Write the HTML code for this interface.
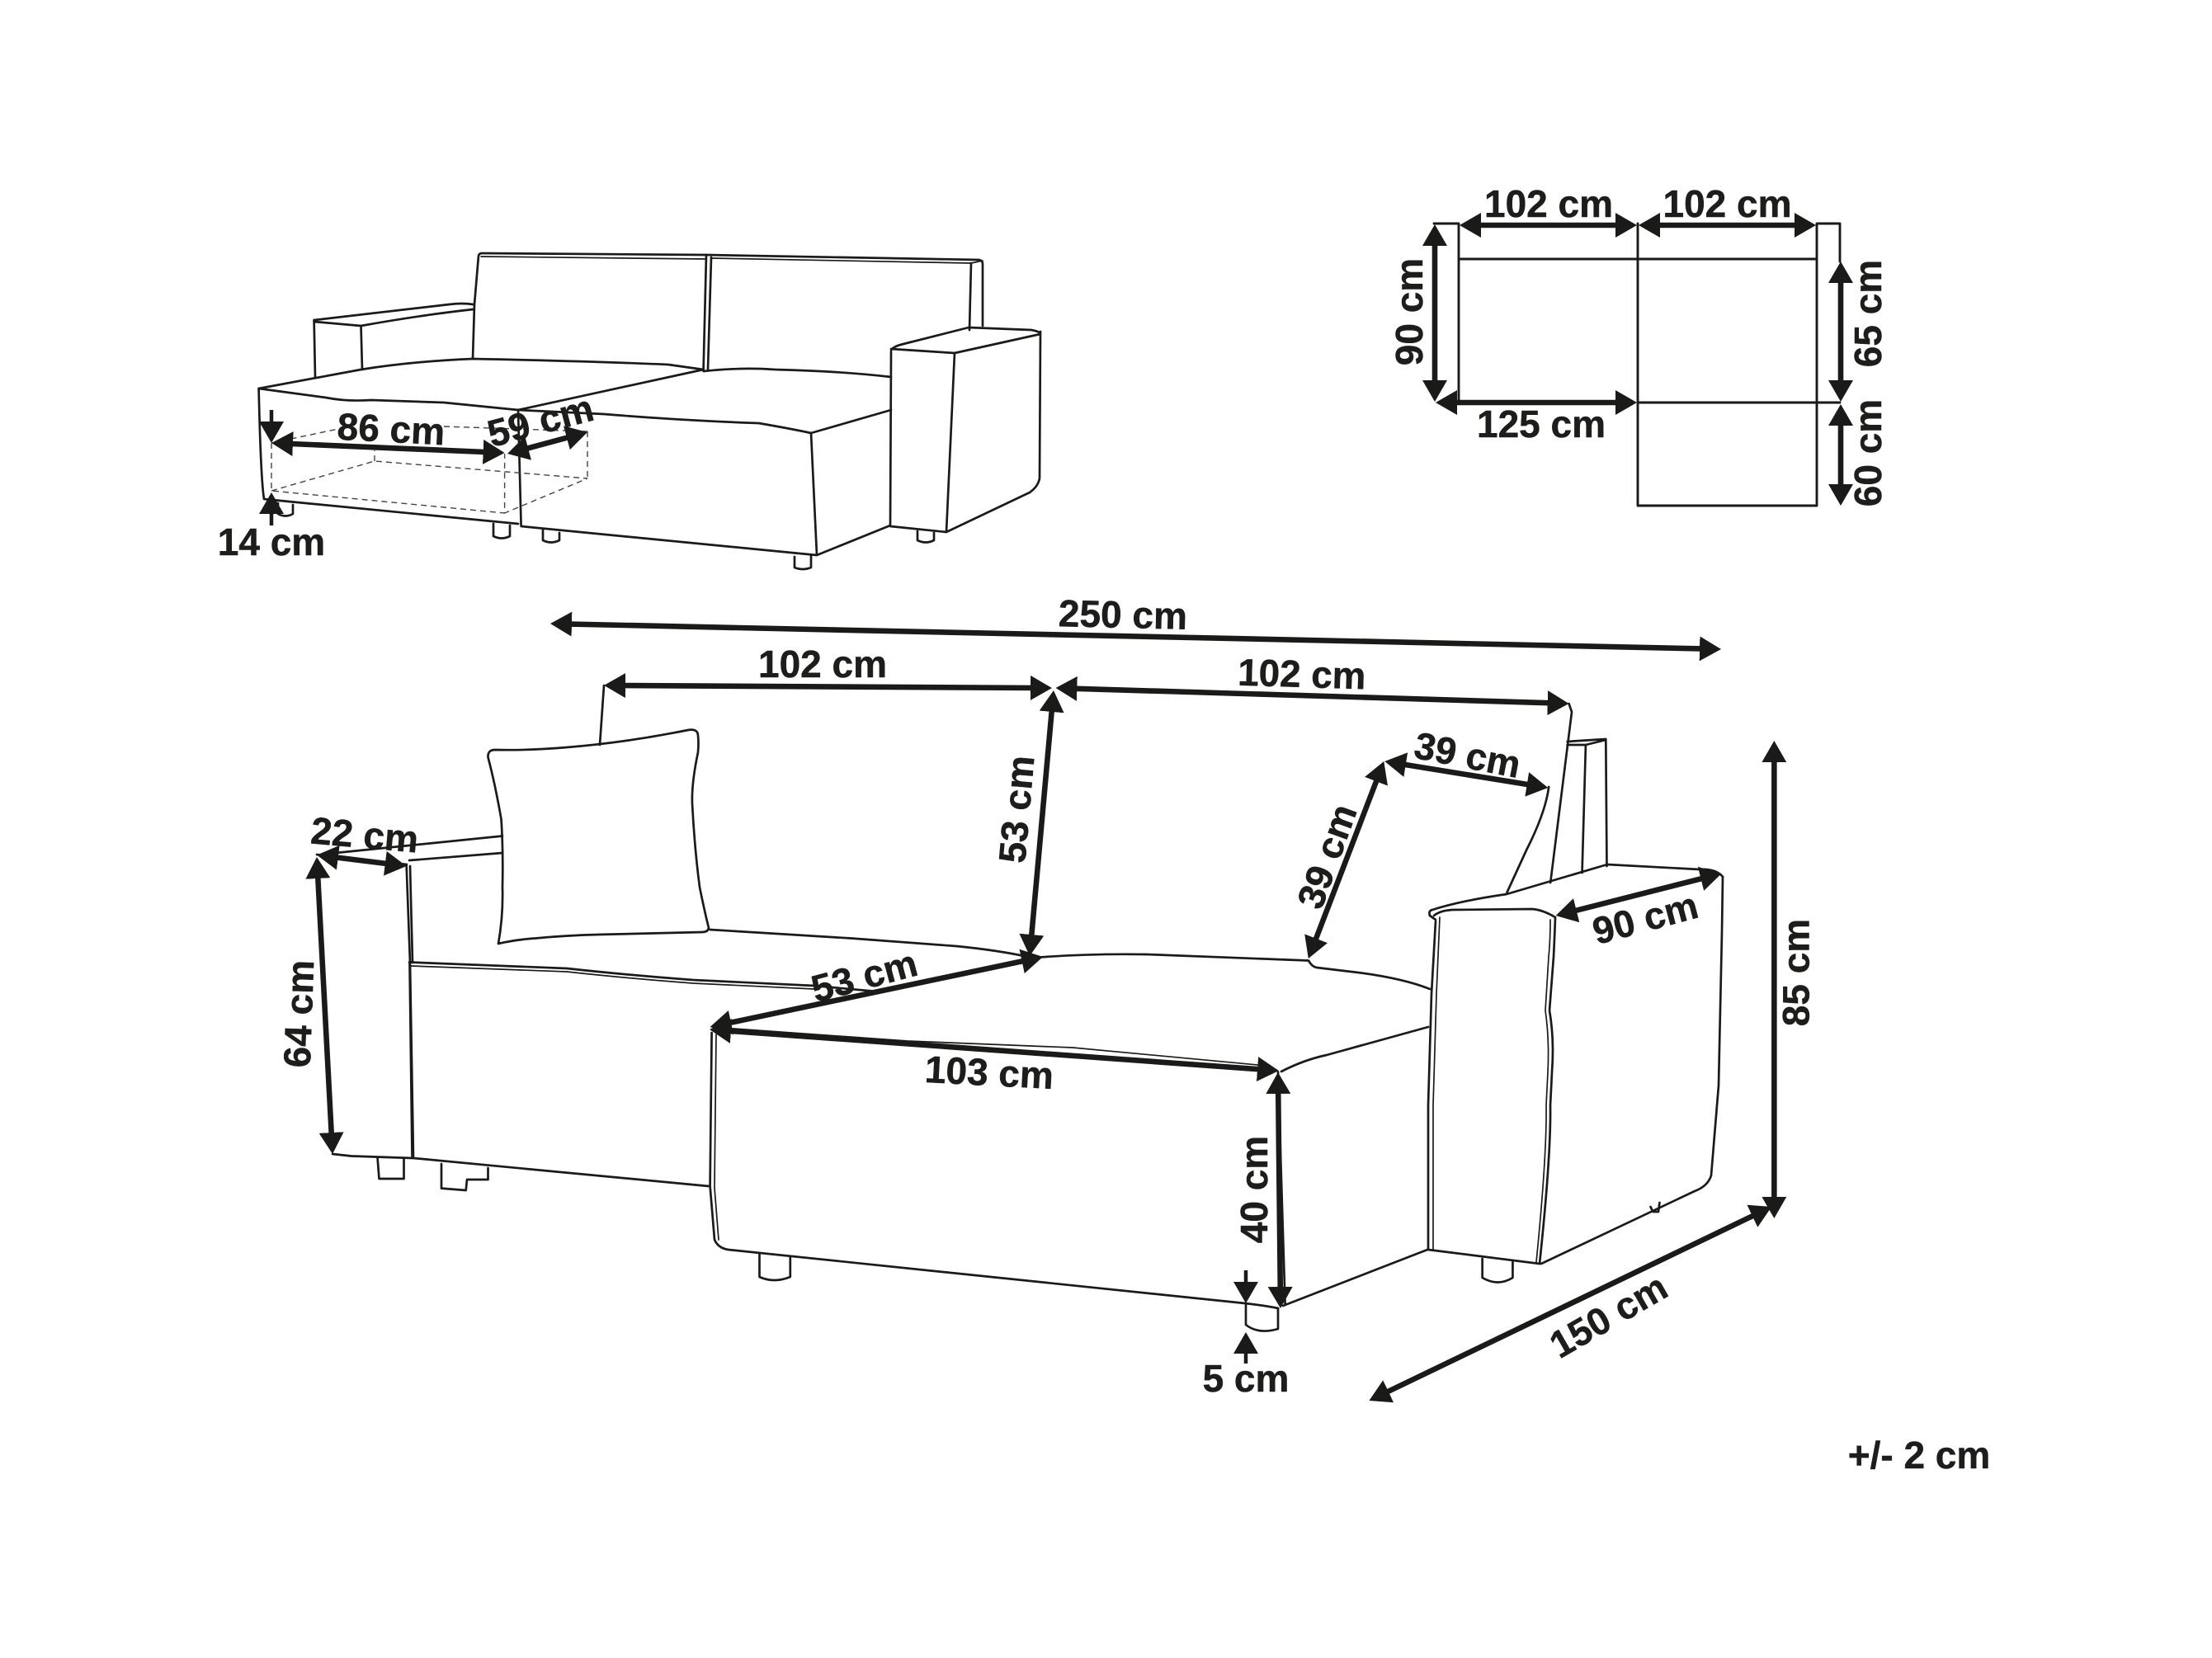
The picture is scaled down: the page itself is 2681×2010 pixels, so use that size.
<!DOCTYPE html>
<html lang="en">
<head>
<meta charset="utf-8">
<title>Sofa dimensions</title>
<style>
html,body{margin:0;padding:0;background:#fff}
svg{display:block}
text{font-family:"Liberation Sans",sans-serif;font-weight:700;font-size:46px;fill:#1d1d1b;stroke:#1d1d1b;stroke-width:.5;text-anchor:middle}
.o{fill:none;stroke:#1a1a18;stroke-width:2.7;stroke-linejoin:round;stroke-linecap:round}
.t{fill:none;stroke:#1a1a18;stroke-width:1.7;stroke-linejoin:round;stroke-linecap:round}
.d{fill:none;stroke:#444;stroke-width:1.4;stroke-dasharray:7 5}
.a{fill:none;stroke:#1a1a18;stroke-width:6.6;marker-start:url(#h);marker-end:url(#h)}
.b{fill:none;stroke:#1a1a18;stroke-width:4.5;marker-end:url(#h)}
</style>
</head>
<body>
<svg xmlns="http://www.w3.org/2000/svg" width="2681" height="2010" viewBox="0 0 2681 2010">
<defs>
<marker id="h" markerUnits="userSpaceOnUse" viewBox="0 0 26 30" markerWidth="26" markerHeight="30" refX="14" refY="15" orient="auto-start-reverse">
<path d="M0 0L26 15L0 30Z" fill="#1a1a18"/>
</marker>
</defs>

<!-- small sofa -->
<g>
<path class="o" d="M573 435L575 369L580 310Q581 307 584 307L856 309L1187 315Q1191 316 1191 320V395"/>
<path class="t" d="M583 311L856 314M862 313L1177 319L1191 316"/>
<path class="o" d="M856 309L852.6 448M862 312L858 448M1177 319L1175 400"/>
<path class="o" d="M380.6 388L544.6 369Q560 367 573.4 369M437.5 395Q510 382 573.4 375M380.6 390L437.5 395M380.6 388L382 457M437.5 395L439 448"/>
<path class="o" d="M313.6 471L437.5 448Q500 438 573.4 435Q720 438 810 442L852.6 448L628 497M852.6 450Q900 445 939.7 448Q1020 450 1080 457"/>
<path class="o" d="M313.6 471L395 482Q420 487 450 485L538 488Q590 493 628 497L732 502Q830 510 919.6 513Q960 520 983 525L1080 497"/>
<path class="o" d="M983 525L990 673L631.6 638L628 497M628 635L350 608L320 605Q316 580 313.6 471M990 673L1079 637"/>
<path class="o" d="M1080 425Q1082 420 1095 417L1174 397L1250 400Q1261 402 1261 405L1157 428L1080 423M1080 427L1079 638L1147 645L1157 428M1261 402L1260 580Q1258 590 1248 597L1147 645"/>
<path class="o" d="M1112 644V655Q1122 660 1132 655V646M963 675V688Q973 692 983 688V673M658 642V655Q668 660 678 655V646M598 635V650Q608 655 618 650V637M337 610V623Q346 628 355 623V612"/>
<path class="d" d="M329 537V595L611.6 622V550M329 595L454 559L712 580L611.6 622M712 523V580M454 559V546M329 537L410 520M538 517L712 523"/>
<line class="a" x1="341" y1="537.5" x2="599.6" y2="548.5"/>
<line class="a" x1="626.6" y1="546.9" x2="700.4" y2="527.1"/>
<line class="b" x1="329" y1="497" x2="329" y2="525"/>
<line class="b" x1="329" y1="637" x2="329" y2="609"/>
<text x="474" y="536" transform="rotate(3 474 520)">86 cm</text>
<text x="655" y="526" transform="rotate(-15 655 510)">59 cm</text>
<text x="329" y="673">14 cm</text>
</g>

<!-- plan -->
<g>
<path class="o" style="stroke-width:2.9" d="M1738 271H1768V487M2202 271H2230V317M1768 314H2202M1985 271V613H2202V271M1985 488H2230"/>
<line class="a" x1="1781" y1="273" x2="1972" y2="273"/>
<line class="a" x1="1998" y1="273" x2="2189" y2="273"/>
<line class="a" x1="1752" y1="488" x2="1972" y2="488"/>
<line class="a" x1="1739" y1="284" x2="1739" y2="475"/>
<line class="a" x1="2231" y1="329" x2="2231" y2="475"/>
<line class="a" x1="2231" y1="502" x2="2231" y2="601"/>
<text x="1877" y="263">102 cm</text>
<text x="2093.5" y="263">102 cm</text>
<text x="1868" y="530">125 cm</text>
<text x="1708" y="394" transform="rotate(-90 1708 378)">90 cm</text>
<text x="2264" y="396" transform="rotate(-90 2264 380)">65 cm</text>
<text x="2264" y="565" transform="rotate(-90 2264 549)">60 cm</text>
</g>

<!-- main sofa -->
<g>
<path class="o" d="M732 831L727 903"/>
<path class="o" d="M591.5 918Q591 909 600 909Q640 910 687 906Q760 900 834 885Q846 883 846 892Q847 900 846 912Q838 950 839 974.5Q842 1030 848 1075.5Q854 1105 859 1125Q858 1130 851 1130L725 1133Q685 1134 649 1137.5Q625 1139 604 1144Q610 1110 609 1075.5Q610 1030 607.5 993Q600 950 591.5 918Z"/>
<path class="o" d="M406.5 1034L609 1013.5M496 1043L609 1034M384 1036L493 1048"/>
<path class="o" d="M492.6 1048L497 1167L501 1404M497 1050L500 1167"/>
<path class="o" d="M403 1399L426 1401.5L501 1404L859 1438"/>
<path class="o" d="M496 1166.5L687 1174Q760 1182 840 1188Q920 1192 987 1195L1063 1202"/>
<path class="t" d="M498 1171L687 1178Q760 1186 840 1192Q920 1196 987 1199M496 1168L499 1402"/>
<path class="o" d="M862.6 1252L860.6 1438L866 1502.6Q870 1513 883 1515L1509 1580Q1535 1583 1549 1586"/>
<path class="t" d="M868 1254L866 1440L871 1503"/>
<path class="o" d="M1549 1299.5L1557.6 1581M1555 1583L1731 1514.6"/>
<path class="o" d="M1553 1299Q1580 1285 1608 1279L1731 1245"/>
<path class="o" d="M860.6 1127L1031.6 1137.5L1159 1147Q1210 1152 1248.4 1160.5M1260 1160.5Q1320 1156 1390 1157L1586 1164.5Q1590 1172 1596 1173L1646 1179Q1700 1186 1733 1199"/>
<path class="t" d="M875 1246L1100 1262L1300 1270L1535 1292"/>

<!-- right arm -->
<path class="o" d="M1733 1110Q1731 1104 1736 1103Q1770 1092 1826 1084L1948 1048L2060 1054Q2080 1053 2088 1063"/>
<path class="o" d="M1733 1110L1740 1115M1738 1110Q1745 1104 1760 1103L1857 1102Q1870 1103 1885 1112"/>
<path class="o" d="M1740 1117L1735 1205L1731 1340V1515L1866 1532"/>
<path class="t" d="M1745 1112L1741 1205L1737 1340V1516"/>
<path class="o" d="M1885 1113Q1884 1140 1883 1160L1878 1225Q1884 1260 1881 1300L1879 1340Q1880 1400 1866 1532"/>
<path class="t" d="M1879 1115Q1879 1140 1877 1160L1873 1225Q1878 1260 1876 1300L1874 1340Q1875 1400 1862 1530"/>
<path class="o" d="M2088 1063L2087 1130L2083 1316L2074 1425Q2070 1438 2054 1444L1868 1532"/>

<g transform="matrix(.9944 0 0 1 6.72 0)">
<path class="o" d="M1905.5 853L1909 863L1883 1070"/>
<path class="o" d="M1881 954Q1877 985 1854 1030L1830 1082"/>
<path class="o" d="M1903.6 899L1950.5 896L1951.7 1050M1903.6 903L1926 903L1950.5 897M1926 903L1921.6 1058"/>
<path class="o" d="M2005 1463L2008 1469H2014.6L2016 1458"/>
<path class="o" d="M1800 1526V1549Q1819 1560 1837 1549V1530"/>
<line class="a" x1="1292" y1="834.4" x2="1893.5" y2="852.6"/>
<line class="a" x1="1692.8" y1="924.9" x2="1868.2" y2="953.1"/>
<line class="a" x1="1675.7" y1="934.2" x2="1592.3" y2="1150.8"/>
<line class="a" x1="2079.9" y1="1061.9" x2="1901.1" y2="1107.1"/>
<line class="a" x1="2155.7" y1="910" x2="2155.7" y2="1465"/>
<line class="a" x1="2141.7" y1="1468.2" x2="1672.8" y2="1692.8"/>
<text x="1580" y="833" transform="rotate(1.7 1580 817)">102 cm</text>
<text x="1782" y="931" transform="rotate(11 1782 915)">39 cm</text>
<text x="1610.5" y="1054" transform="rotate(-70 1610.5 1038)">39 cm</text>
<text x="1998.5" y="1129" transform="rotate(-15 1998.5 1113)">90 cm</text>
<text x="2182" y="1195" transform="rotate(-90 2182 1179)">85 cm</text>
<text x="1953.6" y="1611" transform="rotate(-30 1953.6 1595)">150 cm</text>
</g>

<path class="o" d="M920.5 1520V1548Q938 1556 957.8 1548V1523"/>
<path class="o" d="M1510 1580V1606Q1525 1618 1549 1611V1586"/>
<path class="o" d="M457.6 1404L459.5 1429H489.5V1405"/>
<path class="o" d="M535 1411V1440.6L564.7 1443L566 1430H591.5V1416"/>

<line class="a" x1="679" y1="756.3" x2="2074" y2="786.7"/>
<line class="a" x1="744" y1="831" x2="1263" y2="834"/>
<line class="a" x1="1275.9" y1="849" x2="1249.1" y2="1147"/>
<line class="a" x1="1252.3" y1="1162.5" x2="872.3" y2="1242.5"/>
<line class="a" x1="872" y1="1248.9" x2="1538" y2="1297.1"/>
<line class="a" x1="1549.1" y1="1312" x2="1551.9" y2="1574"/>
<line class="b" x1="1510" y1="1540" x2="1510" y2="1568"/>
<line class="b" x1="1510" y1="1653" x2="1510" y2="1627"/>
<line class="a" x1="395.9" y1="1038" x2="480.7" y2="1048.5"/>
<line class="a" x1="384.6" y1="1051" x2="402.4" y2="1387"/>

<text x="1361" y="761" transform="rotate(1.3 1361 745)">250 cm</text>
<text x="997" y="821">102 cm</text>
<text x="1232" y="997" transform="rotate(-85 1232 981)">53 cm</text>
<text x="1047.5" y="1199" transform="rotate(-15 1047.5 1183)">53 cm</text>
<text x="1199" y="1316" transform="rotate(3 1199 1300)">103 cm</text>
<text x="1520" y="1458" transform="rotate(-90 1520 1442)">40 cm</text>
<text x="1510" y="1687">5 cm</text>
<text x="442" y="1028" transform="rotate(5 442 1012)">22 cm</text>
<text x="362" y="1245" transform="rotate(-88 362 1229)">64 cm</text>
<text x="2326" y="1780">+/- 2 cm</text>
</g>
</svg>
</body>
</html>
